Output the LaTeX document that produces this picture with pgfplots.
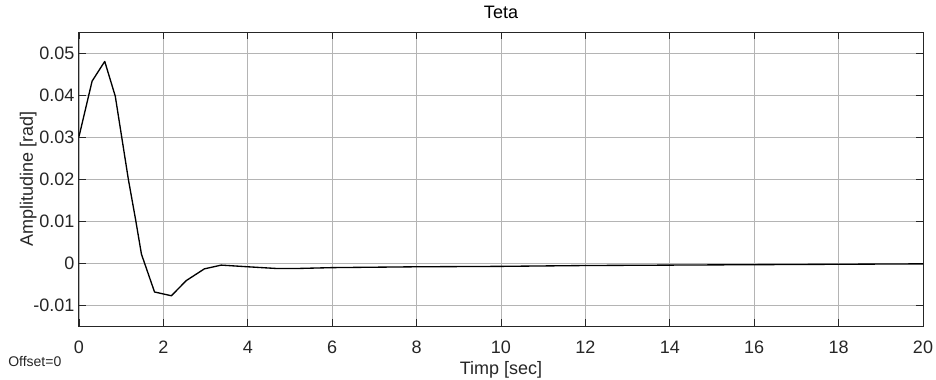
\documentclass[border=0pt]{standalone}
\usepackage{pgfplots}
\pgfplotsset{compat=1.18}
\usepackage{fontspec}
\setmainfont{Liberation Sans}
\definecolor{axcol}{RGB}{38,38,38}
\definecolor{gridcol}{RGB}{180,180,180}
\begin{document}
\begin{tikzpicture}[x=1pt,y=1pt]
\useasboundingbox (0,0) rectangle (702,284.25);
\begin{axis}[
  at={(59.25pt,39.75pt)}, anchor=south west,
  width=633pt, height=220.5pt, scale only axis,
  xmin=0, xmax=20, ymin=-0.015, ymax=0.055,
  xtick={0,2,...,20},
  ytick={-0.01,0,0.01,0.02,0.03,0.04,0.05},
  grid=major,
  major grid style={gridcol, line width=0.6pt},
  axis line style={axcol, line width=0.75pt},
  tick style={axcol, line width=0.6pt},
  tick align=inside,
  major tick length=5pt,
  /pgf/number format/assume math mode=true,
  yticklabel style={/pgf/number format/fixed, /pgf/number format/precision=2, font=\fontsize{13.5}{15}\selectfont, text=axcol},
  xticklabel style={font=\fontsize{13.5}{15}\selectfont, text=axcol, yshift=-7.5pt},
  scaled y ticks=false,
  title={Teta},
  every axis title shift=0pt,
  title style={at={(0.5,1)}, anchor=base, yshift=10pt, font=\fontsize{13.5}{15}\selectfont},
  xlabel={Timp [sec]},
  xlabel style={at={(0.5,0)}, anchor=base, yshift=-36.5pt, font=\fontsize{13.5}{15}\selectfont, text=axcol},
  ylabel={Amplitudine [rad]},
  ylabel style={at={(0,0.5)}, anchor=base, yshift=34.5pt, font=\fontsize{13.5}{15}\selectfont, text=axcol},
]
\addplot[black, line width=1.0pt, line join=round] coordinates {
(0,0.0301) (0.31,0.0433) (0.61,0.0480) (0.86,0.0397) (1.17,0.0199) (1.34,0.0104)
(1.48,0.0021) (1.79,-0.0069) (2.19,-0.0078) (2.54,-0.0042) (2.97,-0.0014)
(3.37,-0.0005) (4.0,-0.0009) (4.67,-0.0013) (5.2,-0.0013) (6,-0.0011)
(8,-0.0009) (10,-0.0008) (12,-0.0006) (14,-0.0005) (16,-0.0004) (18,-0.0003) (20,-0.0002)
};
\end{axis}
\node[anchor=base west, font=\fontsize{10.5}{12}\selectfont, text=axcol, inner sep=0pt] at (6,9.5) {Offset=0};
\end{tikzpicture}
\end{document}
